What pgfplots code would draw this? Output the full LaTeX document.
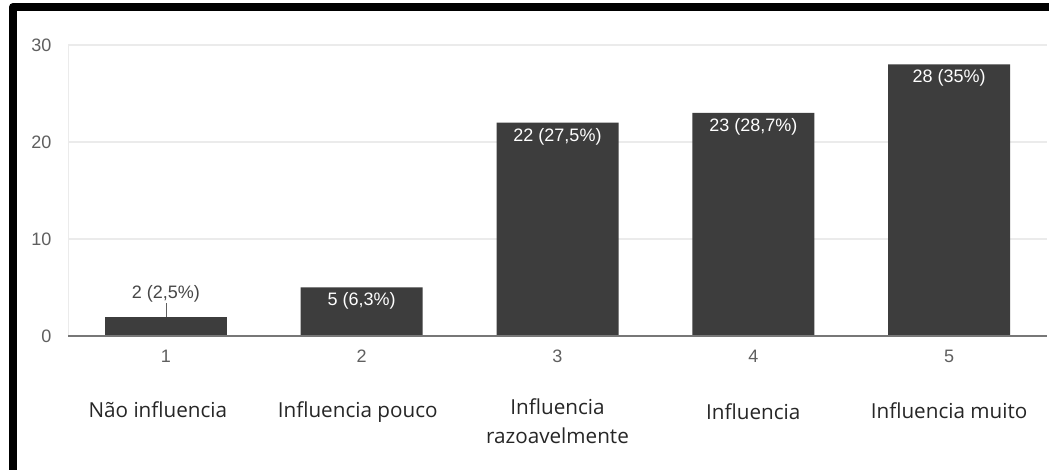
\documentclass[border=0pt]{standalone}
\usepackage{fontspec}
\setmainfont{Liberation Sans}
\newfontfamily\catfont{Open Sans}
\usepackage{pgfplots}
\pgfplotsset{compat=1.18}
\definecolor{barc}{HTML}{3D3D3D}
\definecolor{gridc}{HTML}{EBEBEB}
\definecolor{axc}{HTML}{777777}
\definecolor{tickc}{HTML}{5F5F5F}
\definecolor{catc}{HTML}{262626}
\tikzset{catlab/.style={catc, font=\catfont\fontsize{15.5}{21.75}\selectfont, anchor=base, inner sep=0pt}}
\begin{document}
\begin{tikzpicture}
\useasboundingbox (0,0) rectangle (786.75pt,352.5pt);
\fill[white] (0,0) rectangle (786.75pt,352.5pt);
\begin{axis}[
  at={(51pt,100.5pt)}, anchor=south west,
  scale only axis, width=734.25pt, height=218.25pt,
  xmin=0.5, xmax=5.5, ymin=0, ymax=30,
  axis line style={draw=none},
  major tick length=0pt,
  ymajorgrids, grid style={gridc, line width=0.9pt},
  ytick={0,10,20,30},
  /pgf/number format/assume math mode=true,
  yticklabel style={tickc, font=\fontsize{13.5}{13.5}\selectfont, xshift=-9pt},
  xtick={1,2,3,4,5},
  xticklabels={1,2,3,4,5},
  xticklabel style={tickc, font=\fontsize{13.5}{13.5}\selectfont, yshift=-7pt},
  clip=false,
]
\draw[gridc, line width=0.6pt] (axis cs:0.5,0) -- (axis cs:0.5,30);
\addplot[ybar, bar shift=0pt, bar width=91.5pt, fill=barc, draw=none,
  nodes near coords, point meta=explicit symbolic,
  every node near coord/.append style={white, font=\fontsize{13.5}{13.5}\selectfont, anchor=north, yshift=-0.5pt}]
  coordinates {(2,5) [5 (6,3\%)] (3,22) [22 (27,5\%)] (4,23) [23 (28,7\%)] (5,28) [28 (35\%)]};
\addplot[ybar, bar shift=0pt, bar width=91.5pt, fill=barc, draw=none,
  nodes near coords, point meta=explicit symbolic,
  every node near coord/.append style={color=catc!85, font=\fontsize{13.5}{13.5}\selectfont, anchor=south, yshift=7pt}]
  coordinates {(1,2) [2 (2,5\%)]};
\draw[tickc, line width=0.6pt] (axis cs:1,2) -- ([yshift=10pt]axis cs:1,2);
\draw[axc, line width=1.1pt] (axis cs:0.5,0) -- (axis cs:5.5,0);
\node[catlab] at ([xshift=-6pt,yshift=-61.5pt]axis cs:1,0) {Não influencia};
\node[catlab] at ([xshift=-3pt,yshift=-61.5pt]axis cs:2,0) {Influencia pouco};
\node[catlab] at ([yshift=-59pt]axis cs:3,0) {Influencia};
\node[catlab] at ([yshift=-81pt]axis cs:3,0) {razoavelmente};
\node[catlab] at ([yshift=-62.5pt]axis cs:4,0) {Influencia};
\node[catlab] at ([yshift=-62pt]axis cs:5,0) {Influencia muito};
\end{axis}
\draw[black, line width=6pt, line join=round] (9.75pt,-3pt) -- (9.75pt,347.25pt) -- (790pt,347.25pt);
\end{tikzpicture}
\end{document}
